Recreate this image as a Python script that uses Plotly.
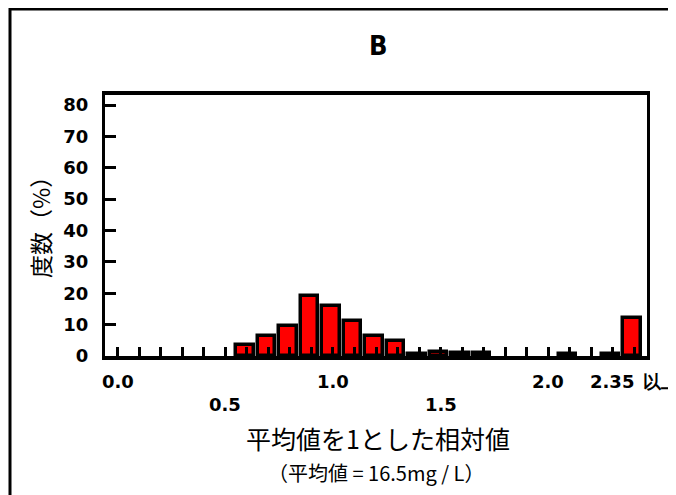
import plotly.graph_objects as go

# bin positions (0.1 wide), last bin = "2.35以上"
bin_pos = [round(0.1 * i, 1) for i in range(25)]
freq_pct = [0, 0, 0, 0, 0, 0, 3.5, 6.4, 9.6, 19.0, 15.8, 11.0, 6.4, 4.8,
            0.5, 1.4, 0.8, 0.8, 0, 0, 0, 0.6, 0, 0.6, 12.2]

y_ticks = [0, 10, 20, 30, 40, 50, 60, 70, 80]
xlab_row1_pos = [0.0, 1.0, 2.0]
xlab_row1_txt = ["0.0", "1.0", "2.0"]
xlab_row2_pos = [0.5, 1.5]
xlab_row2_txt = ["0.5", "1.5"]
xlab_last_pos = 2.4
xlab_last_txt = "2.35\u2002以上"

title_txt = "B"
ytitle_txt = "度数（%）"
xtitle_txt = "平均値を1とした相対値"
xsub_txt = "（平均値 = 16.5mg / L）"

NUM_FONT = "DejaVu Sans, sans-serif"
CJK_FONT = "Noto Sans CJK JP, sans-serif"

line_w = [3.5 if v > 0 else 0 for v in freq_pct]

fig = go.Figure()
fig.add_trace(go.Bar(
    x=bin_pos, y=freq_pct,
    width=0.082, offset=-0.05,
    marker=dict(color="#ff0000", line=dict(color="black", width=line_w)),
))

# page has an 8px body margin, so the figure is 8px smaller and shifted
fig.update_layout(
    width=668, height=487,
    margin=dict(l=97, r=29, t=87, b=139),
    paper_bgcolor="white", plot_bgcolor="white",
    showlegend=False,
    bargap=0,
)
fig.update_xaxes(
    range=[-0.06, 2.46],
    tickvals=bin_pos, ticks="inside", ticklen=9, tickwidth=2.5, tickcolor="black",
    showticklabels=False,
    showline=True, linewidth=4, linecolor="black", mirror=True,
    showgrid=False, zeroline=False,
)
fig.update_yaxes(
    range=[0, 83.2],
    tickvals=y_ticks, ticks="inside", ticklen=11, tickwidth=2.5, tickcolor="black",
    ticklabelstandoff=10,
    tickfont=dict(family=NUM_FONT, size=18, color="black", weight="bold"),
    showline=True, linewidth=3, linecolor="black", mirror=True,
    showgrid=False, zeroline=False,
)

numfont = dict(family=NUM_FONT, size=18, color="black", weight="bold")
ann = []
for xp, t in zip(xlab_row1_pos, xlab_row1_txt):
    ann.append(dict(x=xp, y=0, xref="x", yref="paper", text=t, showarrow=False,
                    xanchor="center", yanchor="middle", yshift=-25, font=numfont))
for xp, t in zip(xlab_row2_pos, xlab_row2_txt):
    ann.append(dict(x=xp, y=0, xref="x", yref="paper", text=t, showarrow=False,
                    xanchor="center", yanchor="middle", yshift=-48, font=numfont))
ann.append(dict(x=xlab_last_pos, y=0, xref="x", yref="paper", text=xlab_last_txt,
                showarrow=False, xanchor="left", xshift=-46,
                yanchor="middle", yshift=-25, font=numfont))
# title
ann.append(dict(x=(378 - 105) / 542, y=(356 - 46) / 261, xref="paper", yref="paper",
                text=title_txt, showarrow=False, xanchor="center", yanchor="middle",
                font=dict(family="DejaVu Sans Condensed, Liberation Sans Narrow, sans-serif",
                          size=27, color="black", weight="bold")))
# y title
ann.append(dict(x=(40 - 105) / 542, y=(356 - 222) / 261, xref="paper", yref="paper",
                text=ytitle_txt, showarrow=False, textangle=-90,
                xanchor="center", yanchor="middle",
                font=dict(family=CJK_FONT, size=23, color="black")))
# x title
ann.append(dict(x=(378 - 105) / 542, y=(356 - 438) / 261, xref="paper", yref="paper",
                text=xtitle_txt, showarrow=False, xanchor="center", yanchor="middle",
                font=dict(family=CJK_FONT, size=25, color="black")))
ann.append(dict(x=(376 - 105) / 542, y=(356 - 472) / 261, xref="paper", yref="paper",
                text=xsub_txt, showarrow=False, xanchor="center", yanchor="middle",
                font=dict(family=CJK_FONT, size=20, color="black")))
fig.update_layout(annotations=ann)

# outer frame (extends beyond the right and bottom page edges)
fig.add_shape(type="path", xref="paper", yref="paper",
              path="M {x0},{y0} L {x0},{y1} L {x2},{y1}".format(
                  x0=(10 - 105) / 542, y0=(356 - 520) / 261,
                  y1=(356 - 9) / 261, x2=(720 - 105) / 542),
              line=dict(color="black", width=3))

fig.write_html("out.html")
